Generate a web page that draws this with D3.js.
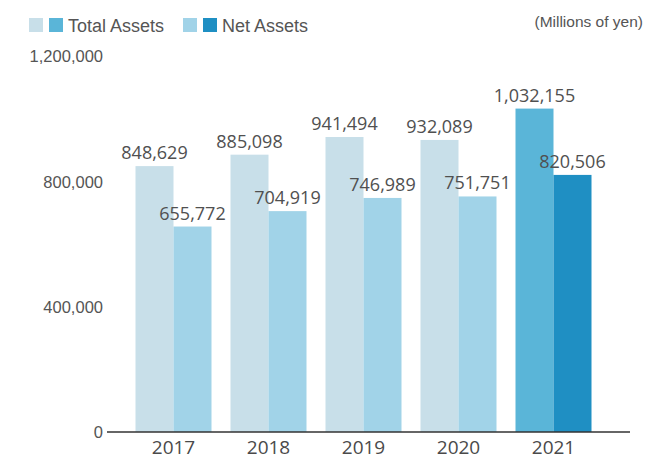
<!DOCTYPE html>
<html>
<head>
<meta charset="utf-8">
<script src="https://cdn.jsdelivr.net/npm/d3@7"></script>
<style>
  body { margin: 0; background: #fff; }
  svg { display: block; }
</style>
</head>
<body>
<div id="chart"></div>
<script>
const years = ["2017", "2018", "2019", "2020", "2021"],
      totalAssets = [848629, 885098, 941494, 932089, 1032155],
      netAssets = [655772, 704919, 746989, 751751, 820506],
      yTicks = [0, 400000, 800000, 1200000],
      seriesNames = ["Total Assets", "Net Assets"];

// past years pale, latest year strong
const colors = {
  total: { past: "#c8dfe9", latest: "#5ab5d8" },
  net: { past: "#a1d3e8", latest: "#1f8fc3" }
};

const width = 645, height = 463;
const svg = d3.select("#chart").append("svg")
  .attr("width", width)
  .attr("height", height);

const x = d3.scaleBand()
  .domain(years)
  .range([126, 601])
  .paddingInner(0.2)
  .paddingOuter(0.1);

const sub = d3.scaleBand()
  .domain(["total", "net"])
  .range([0, x.bandwidth()]);

const y = d3.scaleLinear()
  .domain([0, 1200000])
  .range([432, 56]);

const fmt = d3.format(",");
const latest = years[years.length - 1];

const rows = years.map((yr, i) => ({ year: yr, total: totalAssets[i], net: netAssets[i] }));

const groups = svg.selectAll("g.year")
  .data(rows)
  .enter()
  .append("g")
  .attr("class", "year")
  .attr("transform", d => `translate(${x(d.year)},0)`);

["total", "net"].forEach(key => {
  groups.append("rect")
    .attr("x", sub(key))
    .attr("y", d => y(d[key]))
    .attr("width", sub.bandwidth())
    .attr("height", d => y(0) - y(d[key]))
    .style("fill", d => d.year === latest ? colors[key].latest : colors[key].past);

  groups.append("text")
    .attr("x", sub(key) + sub.bandwidth() / 2)
    .attr("y", d => y(d[key]) - 7)
    .attr("text-anchor", "middle")
    .style("font-family", "'Open Sans', sans-serif")
    .style("font-size", "18px")
    .style("fill", "#505050")
    .text(d => fmt(d[key]));
});

// x axis line with small tick at zero
svg.append("line")
  .attr("x1", 107).attr("x2", 630)
  .attr("y1", y(0)).attr("y2", y(0))
  .style("stroke", "#333")
  .style("stroke-width", 1.5);

const xAxis = d3.axisBottom(x).tickSize(0).tickPadding(9);
const gx = svg.append("g")
  .attr("transform", `translate(0,${y(0)})`)
  .call(xAxis);
gx.select(".domain").remove();
gx.selectAll("text")
  .style("font-family", "'Open Sans', sans-serif")
  .style("font-size", "19px")
  .style("fill", "#4a4a4a");

const yAxis = d3.axisLeft(y).tickValues(yTicks).tickSize(0).tickPadding(0).tickFormat(fmt);
const gy = svg.append("g")
  .attr("transform", "translate(103,0)")
  .call(yAxis);
gy.select(".domain").remove();
gy.selectAll("text")
  .attr("dy", "0.35em")
  .style("font-family", "'Liberation Sans', Arial, sans-serif")
  .style("font-size", "16.5px")
  .style("fill", "#555");

// legend
const legend = [
  { name: seriesNames[0], sw: [colors.total.past, colors.total.latest], x: 29 },
  { name: seriesNames[1], sw: [colors.net.past, colors.net.latest], x: 183 }
];
const lg = svg.selectAll("g.legend")
  .data(legend)
  .enter()
  .append("g")
  .attr("class", "legend")
  .attr("transform", d => `translate(${d.x},18)`);
lg.append("rect").attr("x", 0).attr("width", 14).attr("height", 14).style("fill", d => d.sw[0]);
lg.append("rect").attr("x", 20).attr("width", 14).attr("height", 14).style("fill", d => d.sw[1]);
lg.append("text")
  .attr("x", 39)
  .attr("y", 13.5)
  .style("font-family", "'Liberation Sans', Arial, sans-serif")
  .style("font-size", "18px")
  .style("fill", "#555")
  .text(d => d.name);

svg.append("text")
  .attr("x", 643)
  .attr("y", 27)
  .attr("text-anchor", "end")
  .style("font-family", "'Liberation Sans', Arial, sans-serif")
  .style("font-size", "15.5px")
  .style("fill", "#555")
  .text("(Millions of yen)");
</script>
</body>
</html>
